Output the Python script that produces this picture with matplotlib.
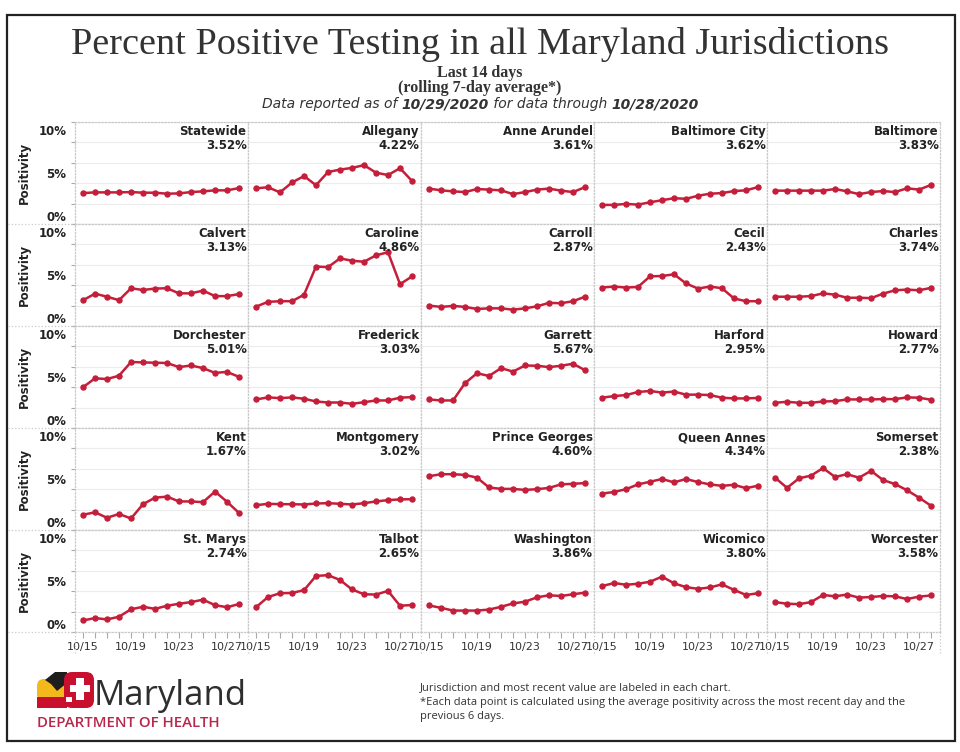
import numpy as np
import matplotlib
matplotlib.use("Agg")
import matplotlib.pyplot as plt
from matplotlib.lines import Line2D
from matplotlib.patches import Rectangle, Polygon, FancyBboxPatch

# ---- data (percent positive, rolling 7-day avg, 10/15 .. 10/28) ----
days = ["10/15", "10/16", "10/17", "10/18", "10/19", "10/20", "10/21",
        "10/22", "10/23", "10/24", "10/25", "10/26", "10/27", "10/28"]
shown_days = ["10/15", "10/19", "10/23", "10/27"]

names = ["Statewide", "Allegany", "Anne Arundel", "Baltimore City", "Baltimore",
         "Calvert", "Caroline", "Carroll", "Cecil", "Charles",
         "Dorchester", "Frederick", "Garrett", "Harford", "Howard",
         "Kent", "Montgomery", "Prince Georges", "Queen Annes", "Somerset",
         "St. Marys", "Talbot", "Washington", "Wicomico", "Worcester"]

statewide = [3.03, 3.10, 3.10, 3.10, 3.13, 3.07, 3.07, 2.97, 3.00, 3.13, 3.20, 3.30, 3.30, 3.52]
allegany = [3.50, 3.60, 3.10, 4.07, 4.70, 3.80, 5.10, 5.33, 5.50, 5.77, 5.03, 4.80, 5.47, 4.22]
anne_arundel = [3.47, 3.30, 3.20, 3.13, 3.43, 3.37, 3.30, 2.93, 3.13, 3.37, 3.47, 3.27, 3.13, 3.61]
baltimore_city = [1.87, 1.87, 1.97, 1.90, 2.13, 2.33, 2.53, 2.47, 2.77, 2.97, 3.03, 3.23, 3.30, 3.62]
baltimore = [3.27, 3.27, 3.27, 3.27, 3.27, 3.43, 3.20, 2.93, 3.13, 3.23, 3.13, 3.50, 3.37, 3.83]
calvert = [2.53, 3.17, 2.87, 2.53, 3.70, 3.53, 3.67, 3.70, 3.20, 3.20, 3.47, 2.93, 2.93, 3.13]
caroline = [1.90, 2.37, 2.43, 2.43, 3.07, 5.83, 5.77, 6.63, 6.40, 6.30, 6.93, 7.23, 4.10, 4.86]
carroll = [2.00, 1.87, 1.97, 1.87, 1.67, 1.73, 1.73, 1.60, 1.73, 1.93, 2.27, 2.23, 2.43, 2.87]
cecil = [3.77, 3.87, 3.77, 3.83, 4.87, 4.90, 5.07, 4.17, 3.67, 3.87, 3.70, 2.70, 2.43, 2.43]
charles = [2.87, 2.87, 2.87, 2.93, 3.20, 3.07, 2.77, 2.77, 2.73, 3.17, 3.50, 3.57, 3.50, 3.74]
dorchester = [4.00, 4.87, 4.80, 5.13, 6.47, 6.43, 6.40, 6.37, 5.97, 6.13, 5.87, 5.40, 5.50, 5.01]
frederick = [2.80, 3.00, 2.93, 3.00, 2.87, 2.60, 2.50, 2.50, 2.37, 2.53, 2.70, 2.70, 2.97, 3.03]
garrett = [2.80, 2.70, 2.70, 4.40, 5.37, 5.10, 5.87, 5.53, 6.13, 6.10, 5.97, 6.10, 6.30, 5.67]
harford = [2.97, 3.13, 3.23, 3.53, 3.63, 3.47, 3.57, 3.27, 3.27, 3.23, 2.97, 2.90, 2.90, 2.95]
howard = [2.47, 2.57, 2.47, 2.47, 2.60, 2.63, 2.80, 2.80, 2.80, 2.83, 2.83, 3.00, 2.97, 2.77]
kent = [1.50, 1.73, 1.20, 1.57, 1.13, 2.53, 3.17, 3.27, 2.80, 2.80, 2.73, 3.77, 2.77, 1.67]
montgomery = [2.43, 2.57, 2.53, 2.53, 2.50, 2.60, 2.63, 2.57, 2.50, 2.63, 2.80, 2.93, 3.00, 3.02]
prince_georges = [5.27, 5.47, 5.47, 5.40, 5.13, 4.17, 4.03, 4.03, 3.93, 4.00, 4.13, 4.47, 4.53, 4.60]
queen_annes = [3.57, 3.73, 4.00, 4.47, 4.73, 5.00, 4.67, 5.00, 4.70, 4.47, 4.33, 4.43, 4.10, 4.34]
somerset = [5.13, 4.13, 5.07, 5.33, 6.07, 5.20, 5.47, 5.13, 5.80, 4.90, 4.50, 3.90, 3.17, 2.38]
st_marys = [1.13, 1.37, 1.23, 1.50, 2.23, 2.47, 2.27, 2.57, 2.77, 2.93, 3.17, 2.63, 2.43, 2.74]
talbot = [2.43, 3.43, 3.80, 3.83, 4.10, 5.50, 5.57, 5.10, 4.17, 3.70, 3.67, 4.03, 2.57, 2.65]
washington = [2.60, 2.37, 2.10, 2.10, 2.10, 2.20, 2.47, 2.80, 2.97, 3.40, 3.60, 3.53, 3.70, 3.86]
wicomico = [4.50, 4.80, 4.63, 4.73, 4.93, 5.43, 4.77, 4.40, 4.23, 4.37, 4.67, 4.13, 3.63, 3.80]
worcester = [2.93, 2.77, 2.73, 2.93, 3.63, 3.50, 3.67, 3.37, 3.43, 3.53, 3.50, 3.23, 3.47, 3.58]

series = [statewide, allegany, anne_arundel, baltimore_city, baltimore,
          calvert, caroline, carroll, cecil, charles,
          dorchester, frederick, garrett, harford, howard,
          kent, montgomery, prince_georges, queen_annes, somerset,
          st_marys, talbot, washington, wicomico, worcester]

RED = "#c41e3a"
GRID = "#c9c9c9"
W, H = 960, 752


def fx(px):
    return px / W


def fy(py):
    return 1 - py / H


fig = plt.figure(figsize=(9.6, 7.52), dpi=100)
fig.patch.set_facecolor("white")

# outer frame
fig.add_artist(Rectangle((fx(7), fy(741)), fx(955) - fx(7), fy(15) - fy(741),
                         transform=fig.transFigure, fill=False,
                         edgecolor="#222222", lw=1.6))

# titles
fig.text(0.5, fy(44), "Percent Positive Testing in all Maryland Jurisdictions",
         ha="center", va="center", fontsize=27.5, family="Liberation Serif",
         color="#333333")
fig.text(0.5, fy(73), "Last 14 days", ha="center", va="center", fontsize=11.5,
         family="Liberation Serif", weight="bold", color="#333333")
fig.text(0.5, fy(88), "(rolling 7-day average*)", ha="center", va="center",
         fontsize=11.5, family="Liberation Serif", weight="bold", color="#333333")

pieces = [("Data reported as of ", "normal"), ("10/29/2020", "bold"),
          (" for data through ", "normal"), ("10/28/2020", "bold")]
fig.canvas.draw()
rend = fig.canvas.get_renderer()
objs = []
for txt, wt in pieces:
    t = fig.text(0, fy(104), txt, ha="left", va="center", fontsize=10,
                 style="italic", weight=wt, color="#333333")
    objs.append(t)
widths = [t.get_window_extent(rend).width for t in objs]
x0 = (W - sum(widths)) / 2
for t, w in zip(objs, widths):
    t.set_x(fx(x0))
    x0 += w

# panels
left0, top0, pw, ph = 75, 122, 173, 102
xs = np.arange(len(days))
for i, (name, vals) in enumerate(zip(names, series)):
    r, c = divmod(i, 5)
    left = left0 + c * pw
    top = top0 + r * ph
    ax = fig.add_axes([fx(left), fy(top + ph), pw / W, ph / H])
    ax.plot(xs, vals, color=RED, lw=1.8, marker="o", ms=3.6, zorder=3)
    ax.set_xlim(-0.67, 13.75)
    ax.set_ylim(0, 10)
    ax.set_yticks([0, 2, 4, 6, 8, 10])
    ax.yaxis.grid(True, color="#ececec", lw=0.8)
    for s in ax.spines.values():
        s.set_color(GRID)
        s.set_linestyle(":")
        s.set_linewidth(0.9)
    ax.tick_params(axis="y", labelleft=False,
                   length=3 if c == 0 else 0, color="#aaaaaa")
    if r == 4:
        ax.set_xticks(xs)
        ax.set_xticklabels([d if d in shown_days else "" for d in days])
        ax.tick_params(axis="x", length=4, color="#aaaaaa", labelsize=8,
                       labelcolor="#333333", pad=3)
    else:
        ax.set_xticks([])
    ax.text(0.992, 0.905, name, transform=ax.transAxes, ha="right",
            va="center", fontsize=8.5, weight="bold", color="#222222")
    ax.text(0.992, 0.765, "%.2f%%" % vals[-1], transform=ax.transAxes,
            ha="right", va="center", fontsize=8.5, weight="bold",
            color="#222222")
    if c == 0:
        tr = ax.get_yaxis_transform()
        for yv, lab in [(9.1, "10%"), (4.9, "5%"), (0.6, "0%")]:
            ax.text(-0.05, yv, lab, transform=tr, ha="right", va="center",
                    fontsize=8.5, weight="bold", color="#222222")
        fig.text(fx(24), fy(top + ph / 2), "Positivity", rotation=90,
                 ha="center", va="center", fontsize=8.5, weight="bold",
                 color="#222222")

# separators reaching into the label bands
for r in range(1, 6):
    yy = fy(top0 + r * ph)
    fig.add_artist(Line2D([fx(8), fx(left0)], [yy, yy], color=GRID, lw=0.9,
                          ls=":", transform=fig.transFigure))
for c in range(6):
    xx = fx(left0 + c * pw)
    fig.add_artist(Line2D([xx, xx], [fy(632), fy(655)], color=GRID, lw=0.9,
                          ls=":", transform=fig.transFigure))

# logo (simplified flag icon)
lax = fig.add_axes([fx(37), fy(708), fx(94) - fx(37), fy(671) - fy(708)])
lax.set_xlim(0, 57)
lax.set_ylim(37, 0)
lax.axis("off")
lax.add_patch(FancyBboxPatch((0, 8), 30, 22, boxstyle="round,pad=0,rounding_size=7",
                             fc="#f2b81c", ec="none"))
lax.add_patch(Polygon([[8, 9], [18, 1], [30, 1], [30, 12], [20, 20], [14, 13]],
                      fc="#1e1e1e", ec="none"))
lax.add_patch(Rectangle((0, 26), 30, 11, fc="#c8102e", ec="none"))
lax.add_patch(FancyBboxPatch((27, 1), 30, 36, boxstyle="round,pad=0,rounding_size=8",
                             fc="#c8102e", ec="none"))
lax.add_patch(Rectangle((33, 14), 20, 7, fc="white", ec="none"))
lax.add_patch(Rectangle((39, 7), 8, 22, fc="white", ec="none"))
lax.add_patch(Rectangle((29, 26), 6, 5, fc="white", ec="none"))

fig.text(fx(94), fy(705), "Maryland", ha="left", va="baseline", fontsize=25,
         family="Open Sans", color="#2e2e2e")
fig.text(fx(37), fy(723), "DEPARTMENT OF HEALTH", ha="left", va="center",
         fontsize=10.8, family="Open Sans", weight="semibold", color="#b8274c")

# footnotes
notes = ["Jurisdiction and most recent value are labeled in each chart.",
         "*Each data point is calculated using the average positivity across the most recent day and the",
         "previous 6 days."]
for k, line in enumerate(notes):
    fig.text(fx(420), fy(688 + 14 * k), line, ha="left", va="center",
             fontsize=8, family="Open Sans", color="#333333")

fig.savefig("out.png", dpi=100, facecolor="white")
